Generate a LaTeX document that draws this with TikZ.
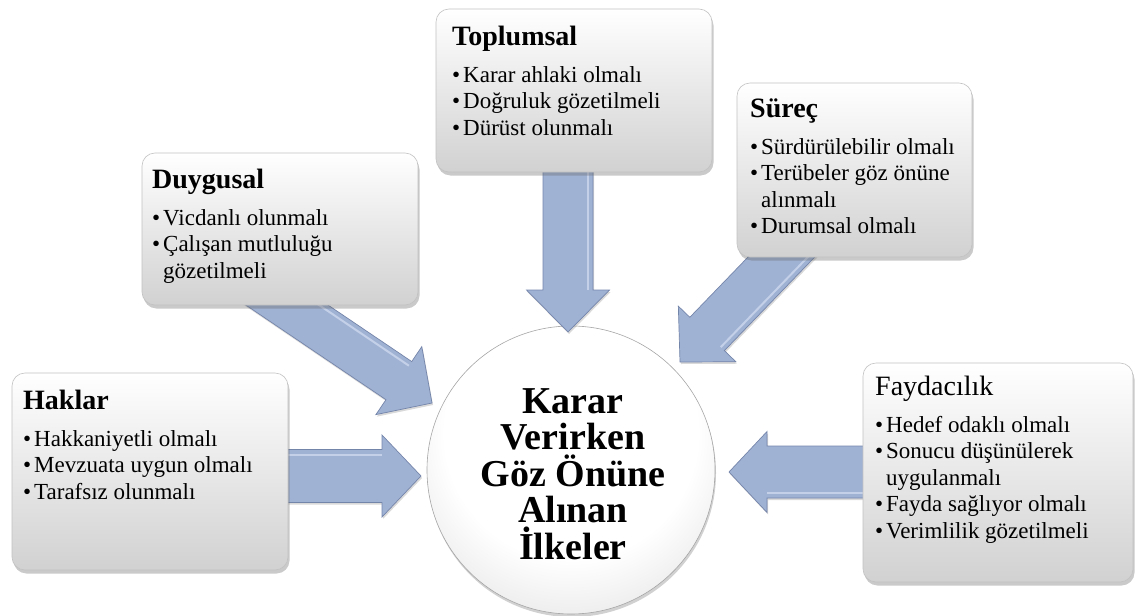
\documentclass[tikz,border=0pt]{standalone}
\usepackage{fontspec}
\setmainfont{Liberation Serif}
\usetikzlibrary{calc,shadows}

\definecolor{arrowblue}{RGB}{160,178,212}
\definecolor{arrowedge}{RGB}{116,133,170}
\definecolor{arrowlight}{RGB}{196,208,232}

% soft disc shading, light falling from above
\pgfdeclareradialshading{discshade}{\pgfpoint{0bp}{10bp}}{%
  color(0bp)=(white); color(22bp)=(white); color(38bp)=(black!13); color(52bp)=(black!28); color(62bp)=(black!36)}

\tikzset{
  panel/.style={rectangle, rounded corners=13pt, draw=black!24, line width=0.6pt,
    top color=white, bottom color=black!18,
    drop shadow={shadow xshift=1.5pt, shadow yshift=-3.5pt, opacity=0.35, fill=black!60}},
  hub/.style={circle, minimum size=288pt, inner sep=0pt, draw=black!35, line width=0.6pt,
    shading=discshade, shade,
    drop shadow={shadow xshift=1pt, shadow yshift=-3pt, opacity=0.3, fill=black!60}},
  flow/.style={fill=arrowblue, draw=arrowedge, line width=0.7pt, line join=miter,
    drop shadow={shadow xshift=1pt, shadow yshift=-2pt, opacity=0.25, fill=black!60}},
  label/.style={anchor=base west, inner sep=0pt},
}

% bullet item with hanging indent (\newline keeps the paragraph open)
\newcommand\bul[1]{\par\noindent\hangindent=11pt\hangafter=1\makebox[11pt][l]{\textbullet}#1}
% panel text: title, then bullet list
\newcommand\paneltext[2]{\parbox[t]{300pt}{\raggedright
  \fontsize{28}{30}\selectfont #1\par
  \fontsize{23}{26.5}\selectfont\vspace{10.5pt}#2}}

% block arrow: start, tip, shaft half width, head half width, head length
\newcommand\blockarrow[5]{%
  \coordinate (#2-base) at ($(#2)!#5!(#1)$);
  \path[flow] ($(#1)!#3!90:(#2)$) -- ($(#2-base)!#3!90:(#2)$)
    -- ($(#2-base)!#4!90:(#2)$) -- (#2)
    -- ($(#2-base)!#4!-90:(#2)$) -- ($(#2-base)!#3!-90:(#2)$)
    -- ($(#1)!#3!-90:(#2)$) -- cycle;
  % light bevel along one side of the shaft
  \draw[arrowlight, line width=2pt, line cap=butt]
    ($(#1)!#3-5pt!90:(#2)$) -- ($(#2-base)!#3-5pt!90:(#2)$);}

\begin{document}
\begin{tikzpicture}[x=1pt, y=-1pt]
\useasboundingbox (0,0) rectangle (1136,616);

% central principle disc
\node[hub] (hub) at (571,470) {};

% arrows from each panel towards the disc
\coordinate (haklar-out) at (272,476);
\coordinate (haklar-in) at (421,476);
\coordinate (fayda-out) at (875,472);
\coordinate (fayda-in) at (729,472);
\coordinate (toplum-out) at (568,160);
\coordinate (toplum-in) at (568,332);
\coordinate (duygu-out) at (235,270);
\coordinate (duygu-in) at (432,403);
\coordinate (surec-out) at (807.5,230);
\coordinate (surec-in) at (680,362);

\blockarrow{haklar-out}{haklar-in}{26.5pt}{41pt}{39pt}
\blockarrow{fayda-out}{fayda-in}{26pt}{40.5pt}{38pt}
\blockarrow{toplum-out}{toplum-in}{25pt}{41.5pt}{42pt}
\blockarrow{duygu-out}{duygu-in}{23pt}{41pt}{40pt}
\blockarrow{surec-out}{surec-in}{24pt}{40pt}{39pt}

% panels
\node[panel, minimum width=276pt, minimum height=197pt] (haklar) at (150,471.5) {};
\node[panel, minimum width=276pt, minimum height=152pt] (duygu) at (280,229) {};
\node[panel, minimum width=276pt, minimum height=163pt] (toplum) at (574,90.5) {};
\node[panel, minimum width=235pt, minimum height=174pt] (surec) at (854.5,170) {};
\node[panel, minimum width=270pt, minimum height=219pt] (fayda) at (998,472.5) {};

% panel texts
\node[label] (haklar-text) at (23,409) {\paneltext{\textbf{Haklar}}{%
  \bul{Hakkaniyetli olmalı}
  \bul{Mevzuata uygun olmalı}
  \bul{Tarafsız olunmalı}}};
\node[label] (duygu-text) at (152,188) {\paneltext{\textbf{Duygusal}}{%
  \bul{Vicdanlı olunmalı}
  \bul{Çalışan mutluluğu\newline gözetilmeli}}};
\node[label] (toplum-text) at (452,45) {\paneltext{\textbf{Toplumsal}}{%
  \bul{Karar ahlaki olmalı}
  \bul{Doğruluk gözetilmeli}
  \bul{Dürüst olunmalı}}};
\node[label] (surec-text) at (750,117) {\paneltext{\textbf{Süreç}}{%
  \bul{Sürdürülebilir olmalı}
  \bul{Terübeler göz önüne\newline alınmalı}
  \bul{Durumsal olmalı}}};
\node[label] (fayda-text) at (875,395) {\paneltext{Faydacılık}{%
  \bul{Hedef odaklı olmalı}
  \bul{Sonucu düşünülerek\newline uygulanmalı}
  \bul{Fayda sağlıyor olmalı}
  \bul{Verimlilik gözetilmeli}}};

% central caption
\node[align=center, font=\fontsize{38}{36.5}\selectfont\bfseries] (hub-text)
  at ($(hub.center)+(2,4)$) {Karar\\Verirken\\Göz Önüne\\Alınan\\İlkeler};
\end{tikzpicture}
\end{document}
